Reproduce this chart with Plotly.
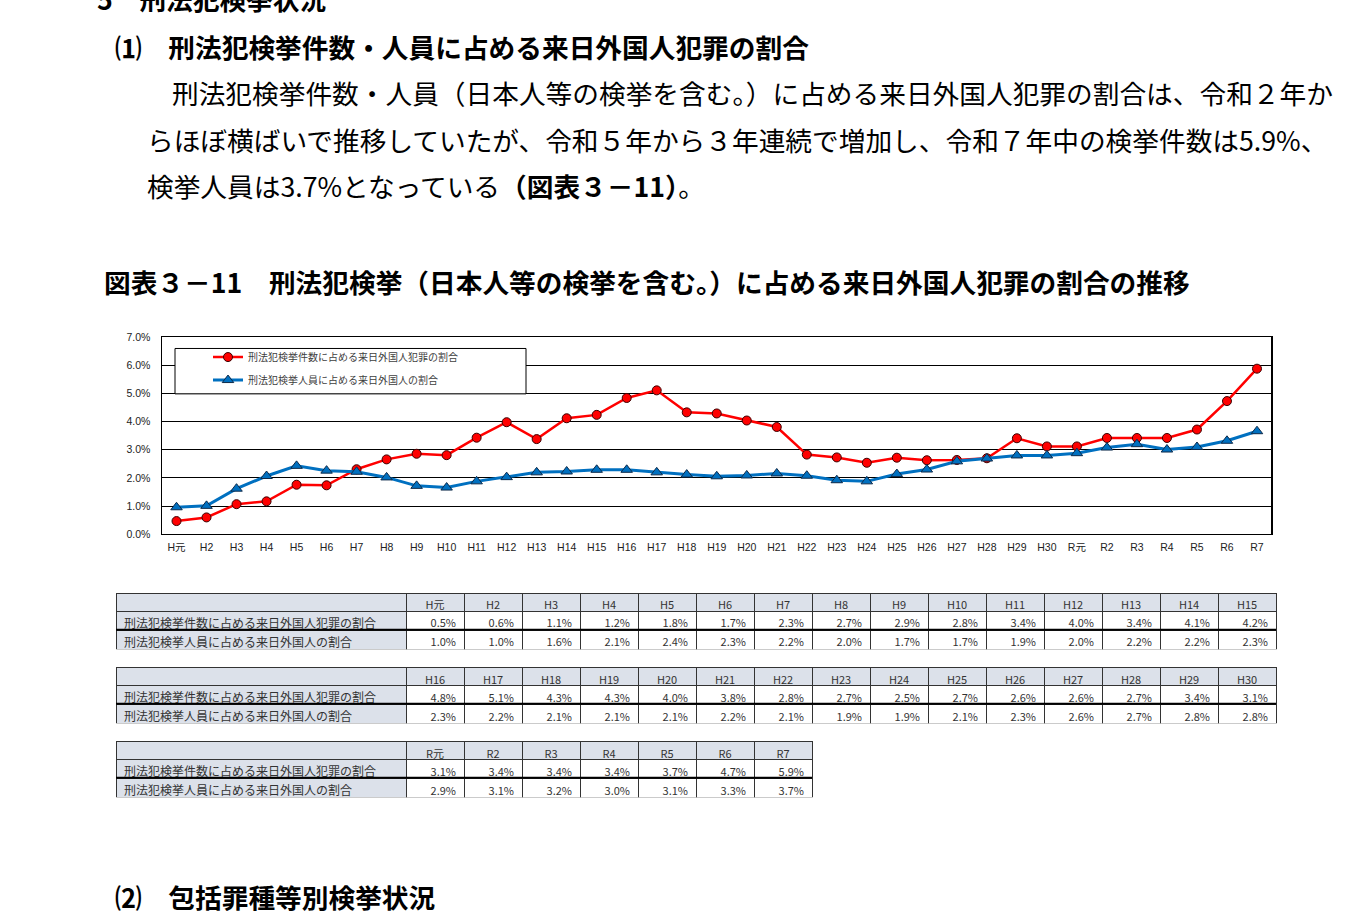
import plotly.graph_objects as go

# ---------------- data ----------------
categories = ["H元", "H2", "H3", "H4", "H5", "H6", "H7", "H8", "H9", "H10",
              "H11", "H12", "H13", "H14", "H15", "H16", "H17", "H18", "H19", "H20",
              "H21", "H22", "H23", "H24", "H25", "H26", "H27", "H28", "H29", "H30",
              "R元", "R2", "R3", "R4", "R5", "R6", "R7"]

series_cases_name = "刑法犯検挙件数に占める来日外国人犯罪の割合"
series_persons_name = "刑法犯検挙人員に占める来日外国人の割合"

cases_share = [0.47, 0.60, 1.07, 1.17, 1.76, 1.74, 2.31, 2.66, 2.86, 2.81,
               3.43, 3.98, 3.38, 4.12, 4.24, 4.84, 5.11, 4.33, 4.29, 4.04,
               3.81, 2.83, 2.73, 2.54, 2.72, 2.63, 2.64, 2.70, 3.41, 3.12,
               3.12, 3.42, 3.42, 3.42, 3.72, 4.73, 5.88]

persons_share = [0.96, 1.01, 1.62, 2.07, 2.43, 2.26, 2.22, 2.02, 1.72, 1.66,
                 1.88, 2.03, 2.20, 2.23, 2.29, 2.29, 2.20, 2.12, 2.06, 2.09,
                 2.16, 2.08, 1.92, 1.88, 2.14, 2.30, 2.59, 2.69, 2.80, 2.80,
                 2.88, 3.08, 3.20, 3.01, 3.10, 3.32, 3.66]

y_ticks = [0, 1, 2, 3, 4, 5, 6, 7]
table_splits = [(0, 15), (15, 30), (30, 37)]

heading_section = "5　刑法犯検挙状況"
heading_sub1 = "⑴　刑法犯検挙件数・人員に占める来日外国人犯罪の割合"
body_line1 = "刑法犯検挙件数・人員（日本人等の検挙を含む。）に占める来日外国人犯罪の割合は、令和２年か"
body_line2 = "らほぼ横ばいで推移していたが、令和５年から３年連続で増加し、令和７年中の検挙件数は5.9%、"
body_line3 = "検挙人員は3.7%となっている<b>（図表３－11）</b>。"
chart_title = "図表３－11　刑法犯検挙（日本人等の検挙を含む。）に占める来日外国人犯罪の割合の推移"
heading_sub2 = "⑵　包括罪種等別検挙状況"

# ---------------- layout helpers ----------------
W, H = 1360, 920
def px(x):
    return x / W
def py(y):
    return 1 - y / H

JP = "Noto Sans CJK JP"
AR = "Arial, Liberation Sans, Noto Sans CJK JP"

fig = go.Figure()

# ---------------- line chart ----------------
fig.add_trace(go.Scatter(
    x=categories, y=cases_share, name=series_cases_name, mode="lines+markers",
    line=dict(color="#FF0000", width=2.5),
    marker=dict(symbol="circle", size=9, color="#FF0000", line=dict(color="#3a0000", width=1)),
    legendgroup="a", xaxis="x", yaxis="y"))
fig.add_trace(go.Scatter(
    x=categories, y=persons_share, name=series_persons_name, mode="lines+markers",
    line=dict(color="#0070C0", width=3),
    marker=dict(symbol="triangle-up", size=10, color="#0070C0", line=dict(color="#0d2a4a", width=1)),
    legendgroup="b", xaxis="x", yaxis="y"))

# ---------------- tables ----------------
table_tops = [595, 670, 745]
for (s, e), top in zip(table_splits, table_tops):
    cats = categories[s:e]
    n = len(cats)
    x0, x1 = 116, 406 + 58 * n
    header_vals = [""] + cats
    cell_vals = [[series_cases_name, series_persons_name]] + [
        [f"{cases_share[i]:.1f}%", f"{persons_share[i]:.1f}%"] for i in range(s, e)]
    fig.add_trace(go.Table(
        domain=dict(x=[px(x0), px(x1)], y=[py(top + 57), py(top)]),
        columnwidth=[290] + [58] * n,
        header=dict(values=header_vals, height=18, align="center",
                    fill=dict(color="#DCE1EA"),
                    line=dict(color="#333333", width=1),
                    font=dict(family=JP, size=11, color="#333333")),
        cells=dict(values=cell_vals, height=19,
                   align=["left"] + ["right"] * n,
                   fill=dict(color=["#DCE1EA"] + ["#FFFFFF"] * n),
                   line=dict(color="#333333", width=1),
                   font=dict(family=JP, size=[12] + [11] * n, color="#333333")),
    ))

shapes = []
# legend box
shapes.append(dict(type="rect", xref="paper", yref="paper",
                   x0=px(175), x1=px(526), y0=py(393), y1=py(347),
                   fillcolor="white", line=dict(color="black", width=1), layer="above"))
# thicker right border of plot
shapes.append(dict(type="line", xref="paper", yref="paper",
                   x0=px(1272), x1=px(1272), y0=py(536), y1=py(335.5),
                   line=dict(color="black", width=2)))
# thick separator between data rows of each table
for (s, e), top in zip(table_splits, table_tops):
    n = e - s
    shapes.append(dict(type="line", xref="paper", yref="paper",
                       x0=px(116), x1=px(406 + 58 * n), y0=py(top + 37), y1=py(top + 37),
                       line=dict(color="black", width=2)))

annotations = []
def txt(x, y, text, size=26.7, bold=False, color="black"):
    annotations.append(dict(xref="paper", yref="paper", x=px(x), y=py(y),
                            xanchor="left", yanchor="middle", showarrow=False,
                            text=(f"<b>{text}</b>" if bold else text),
                            font=dict(family=JP, size=size, color=color)))

txt(95, -8, heading_section, bold=True)
txt(113, 41, heading_sub1, bold=True)
txt(170, 88, body_line1)
txt(145, 135, body_line2)
txt(145, 182, body_line3)
txt(102, 279, chart_title, bold=True)
txt(113, 902, heading_sub2, bold=True)

fig.update_layout(
    width=W, height=H,
    margin=dict(l=0, r=0, t=0, b=0),
    paper_bgcolor="white", plot_bgcolor="white",
    showlegend=True,
    legend=dict(x=px(208), y=py(341), xanchor="left", yanchor="top",
                bgcolor="rgba(0,0,0,0)", borderwidth=0,
                font=dict(family=JP, size=10, color="#404040"),
                tracegroupgap=4, itemwidth=30),
    xaxis=dict(domain=[px(161.5), px(1272)], type="category",
               categoryorder="array", categoryarray=categories,
               range=[-0.5, len(categories) - 0.5],
               showgrid=False, showline=True, linecolor="black", linewidth=1, mirror=True,
               ticks="", tickfont=dict(family=AR, size=10.5, color="#222222"),
               ticklabelstandoff=3, fixedrange=True),
    yaxis=dict(domain=[py(535.3), py(335.5)], range=[0, 7],
               tickvals=y_ticks, ticktext=[f"{v:.1f}%" for v in y_ticks],
               showgrid=True, gridcolor="black", gridwidth=1,
               showline=True, linecolor="black", linewidth=1, mirror=True,
               zeroline=False, ticks="", ticklabelstandoff=8,
               tickfont=dict(family=AR, size=10.5, color="#222222"), fixedrange=True),
    shapes=shapes,
    annotations=annotations,
)

fig.write_html("out.html", config={"displayModeBar": False},
               post_script="document.body.style.margin='0';document.body.style.overflow='hidden';")
